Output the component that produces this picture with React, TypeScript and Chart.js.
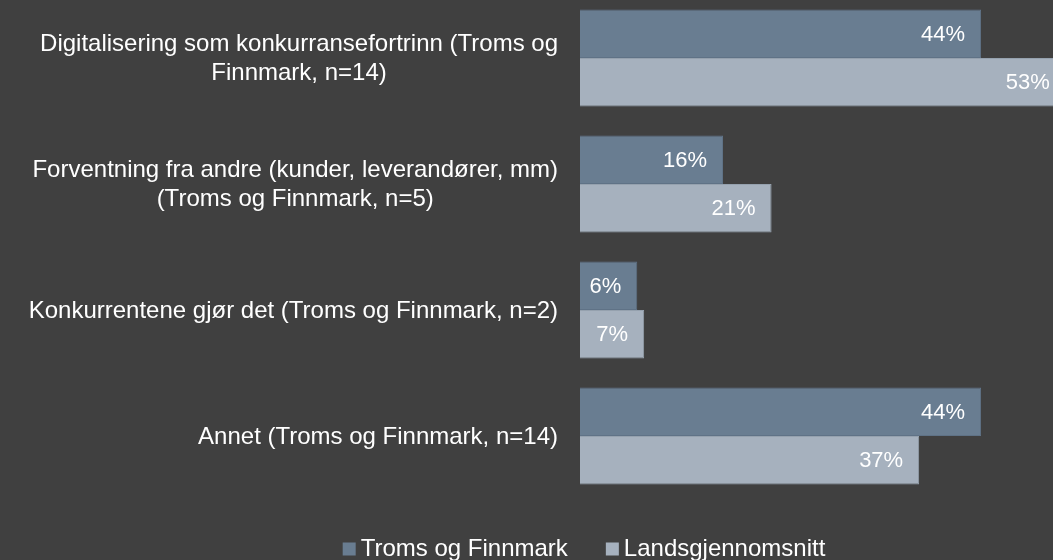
import React, { useEffect, useRef } from "react";
import { Chart, registerables } from "chart.js";

Chart.register(...registerables);

const categories: string[][] = [
  ["Digitalisering som konkurransefortrinn (Troms og", "Finnmark, n=14)"],
  ["Forventning fra andre (kunder, leverandører, mm)", "(Troms og Finnmark, n=5)"],
  ["Konkurrentene gjør det (Troms og Finnmark, n=2)"],
  ["Annet (Troms og Finnmark, n=14)"],
];

const seriesNames = ["Troms og Finnmark", "Landsgjennomsnitt"];
const tromsValues = [43.75, 15.6, 6.25, 43.75];
const landsValues = [53, 20.9, 7.0, 37.0];
const seriesColors = ["#697d91", "#a6b1be"];
const seriesBorders = ["#5f7286", "#95a1ae"];

const BG = "#404040";
const TEXT = "#ffffff";
const CAT_FONT = '24px "Liberation Sans", Arial, sans-serif';
const VAL_FONT = '22px "Liberation Sans", Arial, sans-serif';
const LEG_FONT = '24px "Liberation Sans", Arial, sans-serif';

const labelPlugin = {
  id: "customLabels",
  afterDatasetsDraw(chart: any) {
    const ctx = chart.ctx;
    const xScale = chart.scales.x;
    const yScale = chart.scales.y;
    const area = chart.chartArea;
    ctx.save();
    // value labels
    ctx.font = VAL_FONT;
    ctx.fillStyle = TEXT;
    ctx.textAlign = "right";
    ctx.textBaseline = "middle";
    chart.data.datasets.forEach((ds: any, di: number) => {
      const meta = chart.getDatasetMeta(di);
      meta.data.forEach((bar: any, i: number) => {
        const v = ds.data[i];
        const x = xScale.getPixelForValue(v);
        ctx.fillText(Math.round(v) + "%", x - 16, bar.y + 1);
      });
    });
    // category labels
    ctx.font = CAT_FONT;
    ctx.textAlign = "center";
    const right = area.left - 22;
    const lineH = 29;
    (chart.data.labels as string[][]).forEach((lines, i) => {
      const yc = yScale.getPixelForValue(i);
      const maxW = Math.max(...lines.map((l) => ctx.measureText(l).width));
      const cx = right - maxW / 2;
      const y0 = yc - ((lines.length - 1) * lineH) / 2;
      lines.forEach((l, k) => ctx.fillText(l, cx, y0 + k * lineH + 1));
    });
    // legend
    ctx.font = LEG_FONT;
    ctx.textAlign = "left";
    const box = 13;
    const gap = 5;
    const itemGap = 38;
    const widths = chart.data.datasets.map((ds: any) => box + gap + ctx.measureText(ds.label).width);
    const total = widths.reduce((a: number, b: number) => a + b, 0) + itemGap * (widths.length - 1);
    let x = 584 - total / 2;
    const ly = chart.height - 12;
    chart.data.datasets.forEach((ds: any, di: number) => {
      ctx.fillStyle = ds.backgroundColor;
      ctx.fillRect(x, ly - box / 2 + 1, box, box);
      ctx.fillStyle = TEXT;
      ctx.fillText(ds.label, x + box + gap, ly + 1);
      x += widths[di] + itemGap;
    });
    ctx.restore();
  },
};

const bgPlugin = {
  id: "bg",
  beforeDraw(chart: any) {
    const ctx = chart.ctx;
    ctx.save();
    ctx.fillStyle = BG;
    ctx.fillRect(0, 0, chart.width, chart.height);
    ctx.restore();
  },
};

export default function App() {
  const ref = useRef<HTMLCanvasElement | null>(null);
  useEffect(() => {
    if (!ref.current) return;
    const chart = new Chart(ref.current, {
      type: "bar",
      data: {
        labels: categories as any,
        datasets: [
          {
            label: seriesNames[0],
            data: tromsValues,
            backgroundColor: seriesColors[0],
            borderColor: seriesBorders[0],
            borderWidth: 1,
          },
          {
            label: seriesNames[1],
            data: landsValues,
            backgroundColor: seriesColors[1],
            borderColor: seriesBorders[1],
            borderWidth: 1,
          },
        ],
      },
      options: {
        indexAxis: "y",
        animation: false,
        responsive: false,
        devicePixelRatio: 1,
        layout: { padding: { left: 580, right: 0, top: 0, bottom: 61 } },
        datasets: { bar: { barPercentage: 1, categoryPercentage: 0.77 } },
        scales: {
          x: { display: false, min: 0, max: 51.6 },
          y: { display: false },
        },
        plugins: {
          legend: { display: false },
          tooltip: { enabled: false },
        },
      },
      plugins: [bgPlugin, labelPlugin],
    });
    return () => chart.destroy();
  }, []);
  return (
    <div style={{ position: "fixed", left: 0, top: 0, width: 1053, height: 560, overflow: "hidden", background: BG }}>
      <canvas ref={ref} width={1053} height={565} style={{ position: "absolute", left: 0, top: -5, width: 1053, height: 565 }} />
    </div>
  );
}
